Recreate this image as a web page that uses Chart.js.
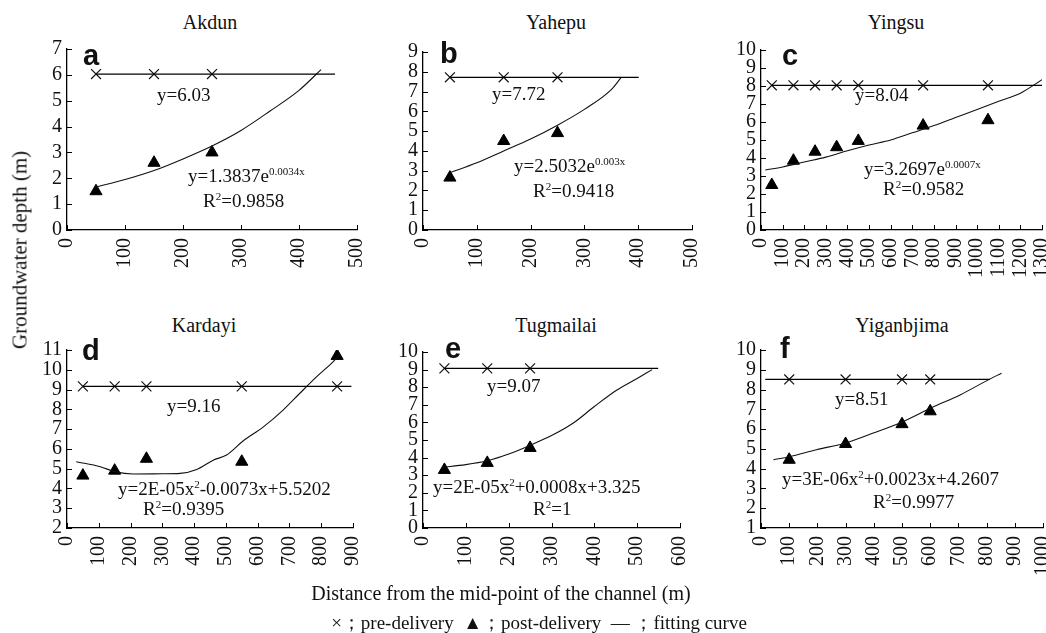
<!DOCTYPE html>
<html>
<head>
<meta charset="utf-8">
<script src="https://cdn.jsdelivr.net/npm/chart.js@4.4.0/dist/chart.umd.min.js"></script>
<style>
  body { margin: 0; background: #fff; width: 1046px; height: 633px; position: relative; overflow: hidden;
         font-family: "Liberation Serif", "Times New Roman", serif; color: #111; }
  .panel { position: absolute; }
  .txt { position: absolute; white-space: nowrap; font-size: 19px; line-height: 1; transform: translateY(-50%); }
  .txt sup { font-size: 11px; vertical-align: 7px; line-height: 0; }
  .title { position: absolute; white-space: nowrap; font-size: 20px; line-height: 1; transform: translate(-50%, -50%); }
  .letter { position: absolute; font-family: "Liberation Sans", Arial, sans-serif; font-weight: bold; font-size: 29px; line-height: 1; }
</style>
</head>
<body>
<script>
// ===== DATA =====
const titles = ["Akdun", "Yahepu", "Yingsu", "Kardayi", "Tugmailai", "Yiganbjima"];
const letters = ["a", "b", "c", "d", "e", "f"];
const xMax = [500, 500, 1300, 900, 600, 1000];
const yMin = [0, 0, 0, 2, 0, 1];
const yMax = [7, 9, 10, 11, 10, 10];

// a - Akdun
const akdunPreX = [50, 150, 250];
const akdunLevel = 6.03;
const akdunLevelX = [50, 462];
const akdunPostX = [50, 150, 250];
const akdunPostY = [1.5, 2.6, 3.0];
const akdunFitX = [48, 100, 150, 200, 250, 300, 350, 400, 438];
const akdunFitY = [1.65, 1.95, 2.3, 2.75, 3.25, 3.85, 4.6, 5.4, 6.2];

// b - Yahepu
const yahepuPreX = [50, 150, 250];
const yahepuLevel = 7.72;
const yahepuLevelX = [50, 401];
const yahepuPostX = [50, 150, 250];
const yahepuPostY = [2.65, 4.5, 4.9];
const yahepuFitX = [50, 100, 150, 200, 250, 300, 350, 368];
const yahepuFitY = [2.9, 3.4, 4.0, 4.6, 5.3, 6.1, 7.1, 7.7];

// c - Yingsu
const yingsuPreX = [50, 150, 250, 350, 450, 750, 1050];
const yingsuLevel = 8.04;
const yingsuLevelX = [50, 1300];
const yingsuPostX = [50, 150, 250, 350, 450, 750, 1050];
const yingsuPostY = [2.5, 3.85, 4.35, 4.6, 4.95, 5.8, 6.1];
const yingsuFitX = [20, 100, 200, 300, 400, 500, 600, 700, 800, 900, 1000, 1100, 1200, 1300];
const yingsuFitY = [3.33, 3.5, 3.78, 4.05, 4.4, 4.72, 5.0, 5.4, 5.8, 6.25, 6.7, 7.15, 7.6, 8.35];

// d - Kardayi
const kardayiPreX = [50, 150, 250, 550, 850];
const kardayiLevel = 9.16;
const kardayiLevelX = [50, 895];
const kardayiPostX = [50, 150, 250, 550, 850];
const kardayiPostY = [4.65, 4.9, 5.5, 5.35, 10.7];
const kardayiFitX = [29, 105, 152, 209, 300, 356, 408, 460, 502, 554, 617, 680, 732, 785, 837, 860];
const kardayiFitY = [5.35, 5.1, 4.84, 4.73, 4.74, 4.76, 4.96, 5.43, 5.69, 6.4, 7.1, 7.96, 8.8, 9.64, 10.4, 10.8];

// e - Tugmailai
const tugPreX = [50, 150, 250];
const tugLevel = 9.07;
const tugLevelX = [50, 549];
const tugPostX = [50, 150, 250];
const tugPostY = [3.3, 3.7, 4.55];
const tugFitX = [45, 100, 150, 200, 250, 300, 350, 400, 450, 500, 535];
const tugFitY = [3.45, 3.6, 3.82, 4.2, 4.7, 5.25, 5.95, 6.9, 7.8, 8.5, 9.0];

// f - Yiganbjima
const yigPreX = [100, 300, 500, 600];
const yigLevel = 8.51;
const yigLevelX = [15, 812];
const yigPostX = [100, 300, 500, 600];
const yigPostY = [4.45, 5.25, 6.25, 6.9];
const yigFitX = [44, 100, 197, 300, 398, 505, 608, 706, 806, 853];
const yigFitY = [4.45, 4.6, 4.96, 5.3, 5.8, 6.39, 7.1, 7.73, 8.49, 8.83];

// equation labels
const levelText = ["y=6.03", "y=7.72", "y=8.04", "y=9.16", "y=9.07", "y=8.51"];
const fitText = ["y=1.3837e<sup>0.0034x</sup>", "y=2.5032e<sup>0.003x</sup>", "y=3.2697e<sup>0.0007x</sup>",
  "y=2E-05x<sup>2</sup>-0.0073x+5.5202", "y=2E-05x<sup>2</sup>+0.0008x+3.325", "y=3E-06x<sup>2</sup>+0.0023x+4.2607"];
const r2Text = ["R<sup>2</sup>=0.9858", "R<sup>2</sup>=0.9418", "R<sup>2</sup>=0.9582",
  "R<sup>2</sup>=0.9395", "R<sup>2</sup>=1", "R<sup>2</sup>=0.9977"];

// ===== LAYOUT =====
const boxes = [
  { l: 67, r: 357, t: 49, b: 230 },
  { l: 423, r: 692, t: 52, b: 230 },
  { l: 761, r: 1042, t: 50, b: 230 },
  { l: 67, r: 353, t: 350, b: 528 },
  { l: 423, r: 680, t: 352, b: 528 },
  { l: 761, r: 1043, t: 350, b: 528 }
];
const titlePos = [[210, 22], [556, 22], [896, 22], [204, 325], [556, 325], [902, 325]];
const letterPos = [[83, 41], [440, 39], [782, 41], [82, 336], [445, 334], [780, 334]];
const levelPos = [[157, 94], [492, 93], [855, 94], [167, 405], [487, 385], [835, 398]];
const fitPos = [[188, 175], [514, 165], [864, 168], [118, 488], [433, 486], [782, 478]];
const r2Pos = [[203, 200], [533, 190], [883, 188], [143, 508], [533, 508], [873, 501]];

const preSets = [
  [akdunPreX, akdunLevel, akdunLevelX, akdunPostX, akdunPostY, akdunFitX, akdunFitY],
  [yahepuPreX, yahepuLevel, yahepuLevelX, yahepuPostX, yahepuPostY, yahepuFitX, yahepuFitY],
  [yingsuPreX, yingsuLevel, yingsuLevelX, yingsuPostX, yingsuPostY, yingsuFitX, yingsuFitY],
  [kardayiPreX, kardayiLevel, kardayiLevelX, kardayiPostX, kardayiPostY, kardayiFitX, kardayiFitY],
  [tugPreX, tugLevel, tugLevelX, tugPostX, tugPostY, tugFitX, tugFitY],
  [yigPreX, yigLevel, yigLevelX, yigPostX, yigPostY, yigFitX, yigFitY]
];

const tickFont = { family: "'Liberation Serif', 'Times New Roman', serif", size: 20 };

// short tick marks drawn inside the plot area
const innerTicks = {
  id: "innerTicks",
  afterDraw(chart) {
    const { ctx, chartArea: a } = chart;
    const x = chart.scales.x, y = chart.scales.y;
    ctx.save();
    ctx.strokeStyle = "#000";
    ctx.lineWidth = 1;
    ctx.beginPath();
    x.ticks.forEach(t => {
      const px = Math.round(x.getPixelForValue(t.value)) + 0.5;
      ctx.moveTo(px, a.bottom);
      ctx.lineTo(px, a.bottom - 5);
    });
    y.ticks.forEach(t => {
      const py = Math.round(y.getPixelForValue(t.value)) + 0.5;
      ctx.moveTo(a.left, py);
      ctx.lineTo(a.left + 5, py);
    });
    ctx.stroke();
    ctx.restore();
  }
};

function addText(cls, html, x, y) {
  const d = document.createElement("div");
  d.className = cls;
  d.innerHTML = html;
  d.style.left = x + "px";
  d.style.top = y + "px";
  document.body.appendChild(d);
  return d;
}

function makePanel(i) {
  const box = boxes[i];
  const [preX, level, levelX, postX, postY, fitX, fitY] = preSets[i];
  const padL = 50, padT = 10, padR = 14, padB = 68;
  const w = box.r - box.l + padL + padR;
  const h = box.b - box.t + padT + padB;

  const div = document.createElement("div");
  div.className = "panel";
  div.style.left = (box.l - padL) + "px";
  div.style.top = (box.t - padT) + "px";
  div.style.width = w + "px";
  div.style.height = h + "px";
  const canvas = document.createElement("canvas");
  canvas.width = w;
  canvas.height = h;
  div.appendChild(canvas);
  document.body.appendChild(div);

  new Chart(canvas, {
    type: "scatter",
    data: {
      datasets: [
        {
          data: levelX.map(x => ({ x: x, y: level })),
          showLine: true, pointRadius: 0, borderColor: "#000", borderWidth: 1.3
        },
        {
          data: fitX.map((x, k) => ({ x: x, y: fitY[k] })),
          showLine: true, pointRadius: 0, borderColor: "#111", borderWidth: 1.1,
          cubicInterpolationMode: "monotone"
        },
        {
          data: preX.map(x => ({ x: x, y: level })),
          pointStyle: "crossRot", pointRadius: 7, borderColor: "#111", borderWidth: 1.2
        },
        {
          data: postX.map((x, k) => ({ x: x, y: postY[k] })),
          pointStyle: "triangle", pointRadius: 7, backgroundColor: "#000", borderColor: "#000", borderWidth: 1
        }
      ]
    },
    options: {
      responsive: false,
      animation: false,
      layout: { padding: { top: padT, right: padR, left: 0, bottom: 0 } },
      plugins: { legend: { display: false }, tooltip: { enabled: false } },
      scales: {
        x: {
          type: "linear", min: 0, max: xMax[i],
          ticks: { stepSize: 100, autoSkip: false, maxRotation: 90, minRotation: 90, padding: 8,
                   color: "#111", font: tickFont, callback: v => String(v) },
          grid: { display: false, drawTicks: false },
          border: { display: true, color: "#000", width: 1.3 },
          afterFit(s) { s.height = padB; s.paddingLeft = 0; s.paddingRight = 0; }
        },
        y: {
          min: yMin[i], max: yMax[i],
          ticks: { stepSize: 1, autoSkip: false, padding: 5, color: "#111", font: tickFont },
          grid: { display: false, drawTicks: false },
          border: { display: true, color: "#000", width: 1.3 },
          afterFit(s) { s.width = padL; s.paddingTop = 0; s.paddingBottom = 0; }
        }
      }
    },
    plugins: [innerTicks]
  });

  addText("title", titles[i], titlePos[i][0], titlePos[i][1]);
  addText("letter", letters[i], letterPos[i][0], letterPos[i][1]);
  addText("txt", levelText[i], levelPos[i][0], levelPos[i][1]);
  addText("txt", fitText[i], fitPos[i][0], fitPos[i][1]);
  addText("txt", r2Text[i], r2Pos[i][0], r2Pos[i][1]);
}

for (let i = 0; i < 6; i++) makePanel(i);

// shared axis titles and legend
const yt = addText("title", "Groundwater depth (m)", 20, 250);
yt.style.transform = "translate(-50%, -50%) rotate(-90deg)";
yt.style.fontSize = "21px";
addText("title", "Distance from the mid-point of the channel (m)", 501, 593);
const lg = addText("title", "×；pre-delivery&nbsp;&nbsp;▲；post-delivery&nbsp;&nbsp;—&nbsp;；fitting curve", 539, 622);
lg.style.fontSize = "19px";
</script>
</body>
</html>
